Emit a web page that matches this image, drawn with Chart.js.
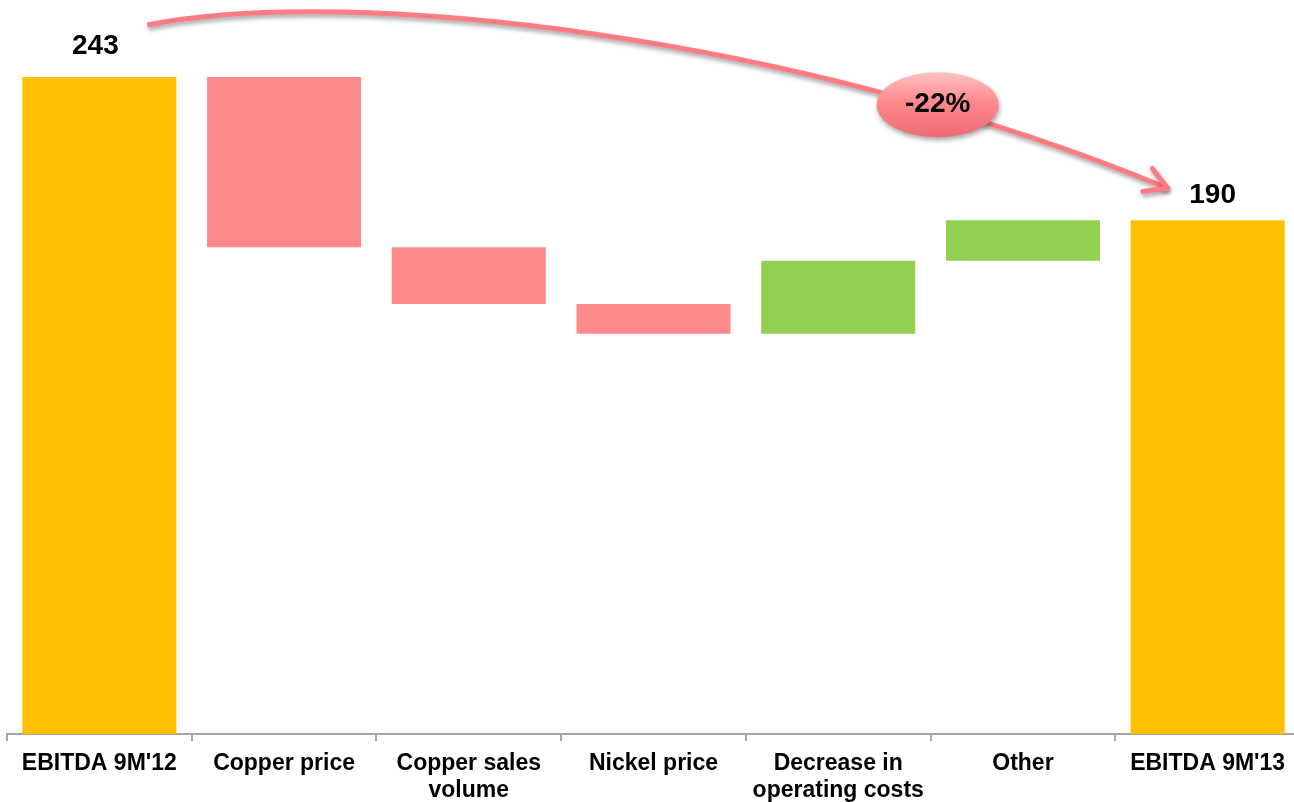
<!DOCTYPE html>
<html>
<head>
<meta charset="utf-8">
<title>EBITDA 9M'12 - 9M'13</title>
<script src="https://cdn.jsdelivr.net/npm/chart.js@4/dist/chart.umd.min.js"></script>
<style>
  html, body { margin: 0; padding: 0; background: #fff; overflow: hidden; }
  /* plot runs a few pixels past the right edge of the window */
  #wrap { width: 1300px; height: 802px; position: relative; }
</style>
</head>
<body>
<div id="wrap"><canvas id="bridge"></canvas></div>
<script>
// bridge categories (multi-line labels wrap under the axis)
const categories = [
  "EBITDA 9M'12",
  "Copper price",
  ["Copper sales", "volume"],
  "Nickel price",
  ["Decrease in", "operating costs"],
  "Other",
  "EBITDA 9M'13"
];
// first and last are totals, the rest are changes
const startValue = 243;
const changes = [-63, -21, -11, 27, 15];
const endValue = 190;

const FONT = "'Liberation Sans', Arial, Helvetica, sans-serif";
const ORANGE = "#FFC000";
const RED = "#FF8A8B";
const GREEN = "#92D050";
const ARROW = "#FF7C82";

// floating bars: [low, high]
const ranges = [[0, startValue]];
const colors = [ORANGE];
let running = startValue;
changes.forEach(function (c) {
  const next = running + c;
  ranges.push([Math.min(running, next), Math.max(running, next)]);
  colors.push(c < 0 ? RED : GREEN);
  running = next;
});
ranges.push([0, endValue]);
colors.push(ORANGE);

// totals printed above the orange bars
const totalLabels = [
  { index: 0, value: startValue, dx: -4, dy: 23 },
  { index: categories.length - 1, value: endValue, dx: 5, dy: 17 }
];

const totalsPlugin = {
  id: "totals",
  afterDatasetsDraw(chart) {
    const ctx = chart.ctx;
    const x = chart.scales.x, y = chart.scales.y;
    ctx.save();
    ctx.fillStyle = "#000";
    ctx.font = "bold 28px " + FONT;
    ctx.textAlign = "center";
    ctx.textBaseline = "alphabetic";
    totalLabels.forEach(function (t) {
      ctx.fillText(String(t.value), x.getPixelForValue(t.index) + t.dx, y.getPixelForValue(t.value) - t.dy);
    });
    ctx.restore();
  }
};

function bez(p0, p1, p2, p3, t) {
  const u = 1 - t;
  return {
    x: u*u*u*p0.x + 3*u*u*t*p1.x + 3*u*t*t*p2.x + t*t*t*p3.x,
    y: u*u*u*p0.y + 3*u*u*t*p1.y + 3*u*t*t*p2.y + t*t*t*p3.y
  };
}

// curved arrow from the first total to the last one with the % change bubble
const arrowPlugin = {
  id: "changeArrow",
  afterDatasetsDraw(chart) {
    const ctx = chart.ctx;
    const x = chart.scales.x, y = chart.scales.y;
    const last = categories.length - 1;
    const p0 = { x: x.getPixelForValue(0) + 48, y: y.getPixelForValue(startValue) - 52 };
    const p3 = { x: x.getPixelForValue(last) - 40, y: y.getPixelForValue(endValue) - 32 };
    const p1 = { x: p0.x + 203, y: p0.y - 40 };
    const p2 = { x: p3.x - 368, y: p3.y - 153 };

    ctx.save();
    ctx.shadowColor = "rgba(0,0,0,0.35)";
    ctx.shadowBlur = 4;
    ctx.shadowOffsetX = 1;
    ctx.shadowOffsetY = 3;
    ctx.strokeStyle = ARROW;
    ctx.lineWidth = 5;
    ctx.lineCap = "butt";
    ctx.beginPath();
    ctx.moveTo(p0.x, p0.y);
    ctx.bezierCurveTo(p1.x, p1.y, p2.x, p2.y, p3.x, p3.y);
    ctx.stroke();

    // open arrow head
    const ang = Math.atan2(p3.y - p2.y, p3.x - p2.x);
    const len = 25, spread = 0.52;
    ctx.lineCap = "round";
    ctx.lineJoin = "round";
    ctx.beginPath();
    ctx.moveTo(p3.x - len * Math.cos(ang - spread), p3.y - len * Math.sin(ang - spread));
    ctx.lineTo(p3.x, p3.y);
    ctx.lineTo(p3.x - len * Math.cos(ang + spread), p3.y - len * Math.sin(ang + spread));
    ctx.stroke();

    // bubble
    const c = bez(p0, p1, p2, p3, 0.8);
    const cx = c.x - 2, cy = c.y - 4, rx = 61, ry = 32.5;
    const g = ctx.createLinearGradient(0, cy - ry, 0, cy + ry);
    g.addColorStop(0, "#FFC2C4");
    g.addColorStop(0.45, "#FF8A8E");
    g.addColorStop(1, "#EE6B71");
    ctx.fillStyle = g;
    ctx.shadowOffsetY = 3;
    ctx.shadowBlur = 5;
    ctx.beginPath();
    ctx.ellipse(cx, cy, rx, ry, 0, 0, Math.PI * 2);
    ctx.fill();
    ctx.shadowColor = "transparent";

    const pct = Math.round((endValue - startValue) / startValue * 100);
    ctx.fillStyle = "#000";
    ctx.font = "bold 28px " + FONT;
    ctx.textAlign = "center";
    ctx.textBaseline = "middle";
    ctx.fillText((pct > 0 ? "+" : "") + pct + "%", cx, cy);
    ctx.restore();
  }
};

new Chart(document.getElementById("bridge"), {
  type: "bar",
  data: {
    labels: categories,
    datasets: [{
      data: ranges,
      backgroundColor: colors,
      borderWidth: 0,
      categoryPercentage: 1,
      barPercentage: 0.834
    }]
  },
  options: {
    responsive: true,
    maintainAspectRatio: false,
    animation: false,
    layout: { padding: { top: 4, left: 7, right: 0, bottom: 0 } },
    plugins: {
      legend: { display: false },
      tooltip: { enabled: false }
    },
    scales: {
      y: {
        display: false,
        min: 0,
        max: 270
      },
      x: {
        grid: {
          drawOnChartArea: false,
          drawTicks: true,
          tickLength: 7,
          color: "#A6A6A6",
          lineWidth: 2
        },
        border: { display: true, color: "#A6A6A6", width: 2 },
        ticks: {
          color: "#000",
          font: { family: FONT, size: 23, weight: "bold", lineHeight: 1.17 },
          padding: 9,
          maxRotation: 0,
          autoSkip: false
        },
        afterFit(scale) { scale.height = 68; }
      }
    }
  },
  plugins: [totalsPlugin, arrowPlugin]
});
</script>
</body>
</html>
